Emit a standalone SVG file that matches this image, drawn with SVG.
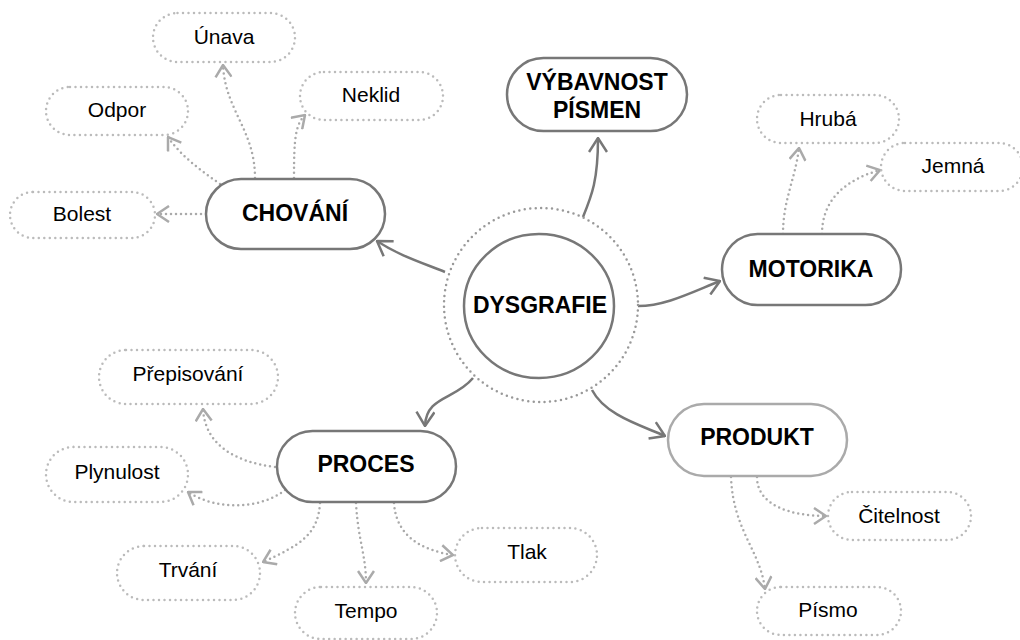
<svg xmlns="http://www.w3.org/2000/svg" width="1020" height="640" viewBox="0 0 1020 640">
  <style>
    .main { fill: #ffffff; stroke: #777777; stroke-width: 2.5; }
    .main.light { stroke: #aaaaaa; }
    .leaf { fill: #ffffff; stroke: #bbbbbb; stroke-width: 2.5; stroke-dasharray: 0 5.5; stroke-linecap: round; }
    .ring { fill: none; stroke: #999999; stroke-width: 2.5; stroke-dasharray: 0 5.5; stroke-linecap: round; }
    .title { font-family: "Liberation Sans", Arial, sans-serif; font-weight: bold; font-size: 23px; fill: #000000; text-anchor: middle; }
    .label { font-family: "Liberation Sans", Arial, sans-serif; font-size: 21px; fill: #000000; text-anchor: middle; }
    .solid { fill: none; stroke: #777777; stroke-width: 2.5; marker-end: url(#arrowSolid); }
    .solid.light { stroke: #888888; }
    .dotted { fill: none; stroke: #aaaaaa; stroke-width: 2.5; stroke-dasharray: 0 5; stroke-linecap: round; marker-end: url(#arrowDotted); }
  </style>
  <defs>
    <marker id="arrowSolid" viewBox="0 0 16 20" refX="15" refY="10" markerWidth="16" markerHeight="20" markerUnits="userSpaceOnUse" orient="auto">
      <path d="M1,1 L15,10 L1,19" fill="none" stroke="#777777" stroke-width="2.5"/>
    </marker>
    <marker id="arrowDotted" viewBox="0 0 14 18" refX="13" refY="9" markerWidth="14" markerHeight="18" markerUnits="userSpaceOnUse" orient="auto">
      <path d="M1,1 L13,9 L1,17" fill="none" stroke="#aaaaaa" stroke-width="2.5"/>
    </marker>
  </defs>

  <!-- connectors -->
  <g id="connectors">
    <!-- from the centre -->
    <path class="solid" d="M445,272 C420,262 398,255 377,241"/>
    <path class="solid" d="M583,217 C592,195 598,180 598,138"/>
    <path class="solid" d="M638,306 C665,306 690,293 720,281"/>
    <path class="solid" d="M473,378 C455,400 426,396 425,426"/>
    <path class="solid" d="M592,390 C605,415 640,425 665,436"/>
    <!-- CHOVÁNÍ -->
    <path class="dotted" d="M206,214 L157,214"/>
    <path class="dotted" d="M220,184 C200,170 180,155 168,137"/>
    <path class="dotted" d="M255,178 C255,130 225,110 223,65"/>
    <path class="dotted" d="M294,178 C294,140 295,125 305,115"/>
    <!-- MOTORIKA -->
    <path class="dotted" d="M783,234 C783,200 795,180 799,148"/>
    <path class="dotted" d="M822,234 C822,200 845,180 880,170"/>
    <!-- PROCES -->
    <path class="dotted" d="M275,467 C235,462 205,445 203,409"/>
    <path class="dotted" d="M285,490 C260,510 215,510 188,492"/>
    <path class="dotted" d="M320,503 C318,535 300,545 263,562"/>
    <path class="dotted" d="M356,503 C358,540 366,555 366,583"/>
    <path class="dotted" d="M394,503 C396,535 420,550 453,555"/>
    <!-- PRODUKT -->
    <path class="dotted" d="M757,477 C757,505 790,516 826,516"/>
    <path class="dotted" d="M731,477 C733,530 760,550 765,589"/>
  </g>

  <!-- centre -->
  <g id="dysgrafie">
    <circle class="ring" cx="541" cy="305" r="97"/>
    <ellipse class="main" cx="539" cy="306" rx="75" ry="72"/>
    <text class="title" x="540" y="313">DYSGRAFIE</text>
  </g>

  <!-- main branches -->
  <g id="chovani">
    <rect class="main" x="206" y="179" width="179" height="70" rx="35"/>
    <text class="title" x="295" y="221">CHOVÁNÍ</text>
  </g>
  <g id="vybavnost">
    <rect class="main" x="507" y="58" width="180" height="73" rx="36.5"/>
    <text class="title" x="597" y="90">VÝBAVNOST</text>
    <text class="title" x="597" y="118">PÍSMEN</text>
  </g>
  <g id="motorika">
    <rect class="main" x="722" y="234" width="179" height="71" rx="35.5"/>
    <text class="title" x="811" y="277">MOTORIKA</text>
  </g>
  <g id="proces">
    <rect class="main" x="277" y="431" width="179" height="71" rx="35.5"/>
    <text class="title" x="366" y="472">PROCES</text>
  </g>
  <g id="produkt">
    <rect class="main light" x="668" y="404" width="179" height="72" rx="36"/>
    <text class="title" x="757" y="445">PRODUKT</text>
  </g>

  <!-- leaves -->
  <g id="unava">
    <rect class="leaf" x="153" y="13" width="142" height="49" rx="24.5"/>
    <text class="label" x="224" y="44">Únava</text>
  </g>
  <g id="odpor">
    <rect class="leaf" x="46" y="87" width="142" height="48" rx="24"/>
    <text class="label" x="117" y="117">Odpor</text>
  </g>
  <g id="neklid">
    <rect class="leaf" x="300" y="72" width="143" height="48" rx="24"/>
    <text class="label" x="371" y="102">Neklid</text>
  </g>
  <g id="bolest">
    <rect class="leaf" x="10" y="192" width="145" height="46" rx="23"/>
    <text class="label" x="82" y="221">Bolest</text>
  </g>
  <g id="hruba">
    <rect class="leaf" x="757" y="95" width="142" height="48" rx="24"/>
    <text class="label" x="828" y="126">Hrubá</text>
  </g>
  <g id="jemna">
    <rect class="leaf" x="881" y="143" width="142" height="48" rx="24"/>
    <text class="label" x="953" y="173">Jemná</text>
  </g>
  <g id="prepisovani">
    <rect class="leaf" x="99" y="350" width="179" height="54" rx="27"/>
    <text class="label" x="188" y="381">Přepisování</text>
  </g>
  <g id="plynulost">
    <rect class="leaf" x="46" y="447" width="142" height="55" rx="27.5"/>
    <text class="label" x="117" y="479">Plynulost</text>
  </g>
  <g id="trvani">
    <rect class="leaf" x="117" y="546" width="143" height="54" rx="27"/>
    <text class="label" x="188" y="577">Trvání</text>
  </g>
  <g id="tempo">
    <rect class="leaf" x="295" y="587" width="142" height="52" rx="26"/>
    <text class="label" x="366" y="618">Tempo</text>
  </g>
  <g id="tlak">
    <rect class="leaf" x="455" y="528" width="142" height="54" rx="27"/>
    <text class="label" x="527" y="559">Tlak</text>
  </g>
  <g id="citelnost">
    <rect class="leaf" x="828" y="492" width="143" height="48" rx="24"/>
    <text class="label" x="899" y="523">Čitelnost</text>
  </g>
  <g id="pismo">
    <rect class="leaf" x="757" y="587" width="144" height="48" rx="24"/>
    <text class="label" x="828" y="617">Písmo</text>
  </g>
</svg>
